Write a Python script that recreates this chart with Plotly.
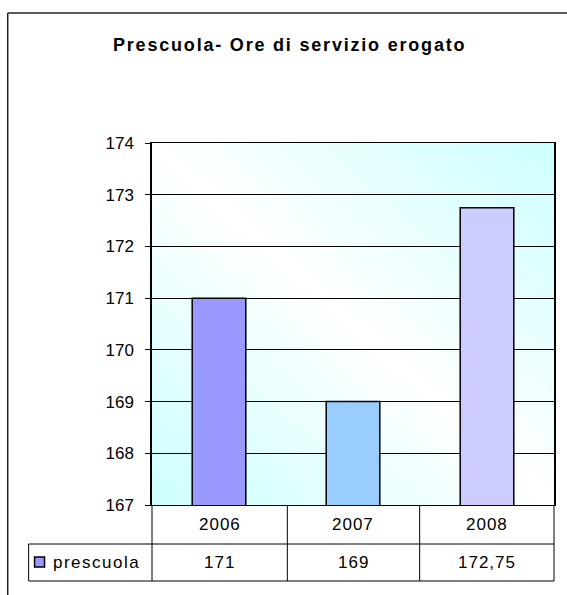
import plotly.graph_objects as go
import urllib.parse

# ---- data ----
years = ["2006", "2007", "2008"]
values = [171, 169, 172.75]
value_labels = ["171", "169", "172,75"]
bar_colors = ["#9999FF", "#99CCFF", "#CCCCFF"]
series_name = "prescuola"
title_text = "Prescuola- Ore di servizio erogato"

W, H = 567, 595
L, R, T, B = 152, 556, 143, 505  # plot area in pixels

def px(x):
    return (x - L) / (R - L)

def py(y):
    return (B - y) / (B - T)

FONT = "Liberation Sans, Arial, sans-serif"

def spaced(t, s):
    return "<span style='letter-spacing:%spx'>%s</span>" % (s, t)

fig = go.Figure()
fig.add_trace(go.Bar(
    x=years, y=values, name=series_name,
    marker=dict(color=bar_colors, line=dict(color="black", width=1.5)),
    width=0.4, showlegend=False, hoverinfo="skip",
))

svg = ("<svg xmlns='http://www.w3.org/2000/svg' width='100' height='100' preserveAspectRatio='none'>"
       "<defs><linearGradient id='g' x1='0' y1='1' x2='1' y2='0'>"
       "<stop offset='0' stop-color='#CCFFFF'/><stop offset='0.5' stop-color='#FFFFFF'/>"
       "<stop offset='1' stop-color='#CCFFFF'/></linearGradient></defs>"
       "<rect width='100' height='100' fill='url(#g)'/></svg>")
src = "data:image/svg+xml;charset=utf-8," + urllib.parse.quote(svg)

shapes = []
line = dict(color="black", width=1)
shapes.append(dict(type="line", xref="paper", yref="paper", x0=px(28), x1=px(556), y0=py(544), y1=py(544), line=line))
shapes.append(dict(type="line", xref="paper", yref="paper", x0=px(28), x1=px(556), y0=py(581), y1=py(581), line=line))
col_edges = [152, 288, 421, 556]
for xv in col_edges:
    shapes.append(dict(type="line", xref="paper", yref="paper", x0=px(xv), x1=px(xv), y0=py(505), y1=py(581), line=line))
shapes.append(dict(type="line", xref="paper", yref="paper", x0=px(28), x1=px(28), y0=py(544), y1=py(581), line=line))
shapes.append(dict(type="rect", xref="paper", yref="paper", x0=px(34), x1=px(44), y0=py(567), y1=py(557),
                   fillcolor=bar_colors[0], line=dict(color="black", width=1.5)))
frame = dict(color="#222222", width=1.5)
shapes.append(dict(type="line", xref="paper", yref="paper", x0=px(7), x1=px(7), y0=py(13), y1=py(600), line=frame))
shapes.append(dict(type="line", xref="paper", yref="paper", x0=px(7), x1=px(570), y0=py(13), y1=py(13), line=frame))

annotations = []
tfont = dict(size=17, color="black", family=FONT)
for i, yr in enumerate(years):
    cx = px((col_edges[i] + col_edges[i + 1]) / 2)
    annotations.append(dict(x=cx, xref="paper", y=py(524), yref="paper", text=spaced(yr, 1),
                            showarrow=False, font=tfont, xanchor="center", yanchor="middle"))
    annotations.append(dict(x=cx, xref="paper", y=py(562), yref="paper", text=spaced(value_labels[i], 1),
                            showarrow=False, font=tfont, xanchor="center", yanchor="middle"))
annotations.append(dict(x=px(50), xref="paper", y=py(562), yref="paper", text=spaced(series_name, 1.5),
                        showarrow=False, xanchor="left", yanchor="middle", font=tfont))
annotations.append(dict(x=px(290), xref="paper", y=py(45), yref="paper",
                        text="<b>" + spaced(title_text, 1.8) + "</b>",
                        showarrow=False, xanchor="center", yanchor="middle",
                        font=dict(size=18, color="black", family=FONT)))

fig.update_layout(
    width=W, height=H,
    margin=dict(l=L, r=W - R, t=T, b=H - B),
    paper_bgcolor="white", plot_bgcolor="rgba(0,0,0,0)",
    font=dict(family=FONT, size=17, color="black"),
    shapes=shapes, annotations=annotations,
    images=[dict(source=src, xref="x domain", yref="y domain", x=0, y=1, sizex=1, sizey=1,
                 sizing="stretch", layer="below", xanchor="left", yanchor="top")],
    bargap=0.6,
)
fig.update_xaxes(type="category", range=[-0.5, 2.5], showticklabels=False, showgrid=False,
                 showline=True, linecolor="black", linewidth=1, mirror=True, ticks="")
fig.update_yaxes(range=[167, 174], dtick=1, tick0=167, ticks="outside", ticklen=5, tickcolor="black",
                 showline=True, linecolor="black", linewidth=1.5, mirror=True,
                 showgrid=True, gridcolor="black", gridwidth=1, zeroline=False,
                 tickfont=dict(size=17, family=FONT, color="black"), ticklabelstandoff=8)

fig.write_html("out.html", config={"displayModeBar": False},
               post_script="document.body.style.margin='0';document.body.style.overflow='hidden';")
